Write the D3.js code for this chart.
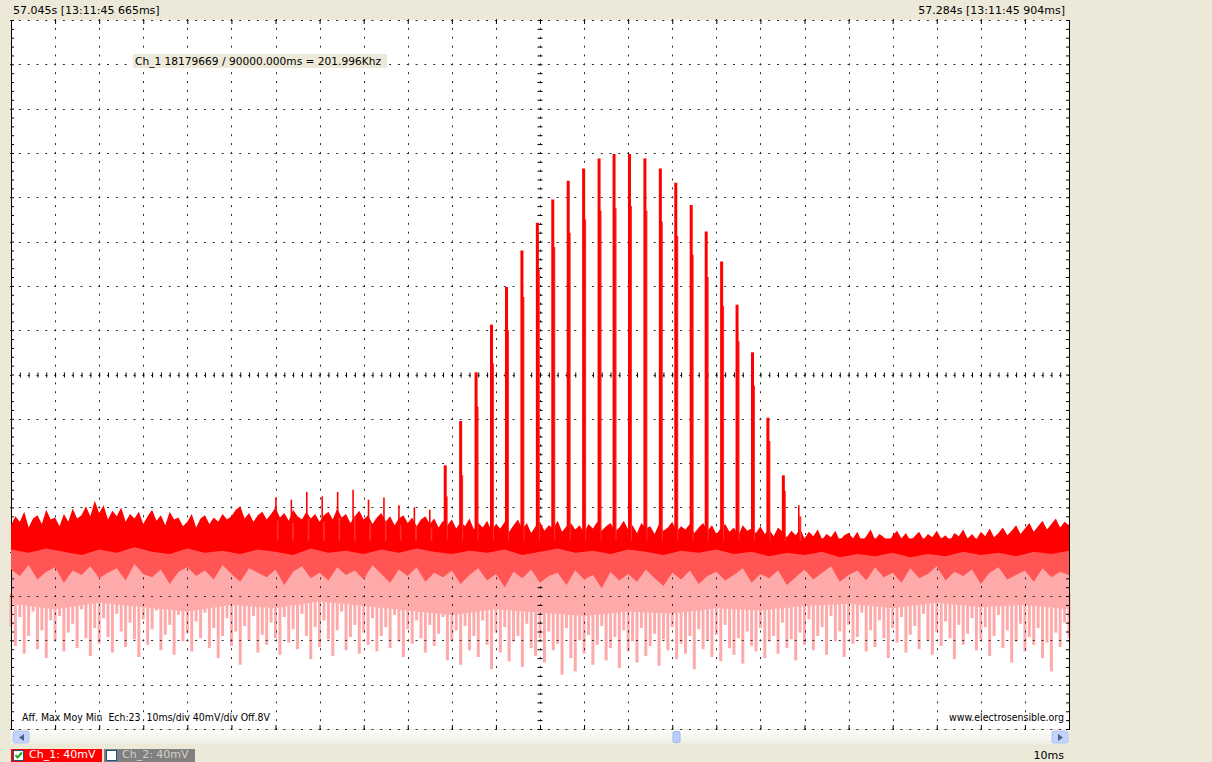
<!DOCTYPE html>
<html>
<head>
<meta charset="utf-8">
<script src="https://cdn.jsdelivr.net/npm/d3@7"></script>
<style>
body { margin: 0; background: #ece9d8; overflow: hidden; }
svg { display: block; font-family: "DejaVu Sans", sans-serif; }
</style>
</head>
<body>
<div id="container"></div>
<script>
const width = 1212;
const height = 762;

// ---------------------------- DATA ----------------------------//
// screen: 24 div x 10ms, 16 div x 40mV
const timeRange = [0, 240];
const voltRange = [-320, 320];
const headerLeft = "57.045s [13:11:45 665ms]";
const headerRight = "57.284s [13:11:45 904ms]";
const measureText = "Ch_1 18179669 / 90000.000ms = 201.996Khz";
const infoText = "Aff. Max Moy Min  Ech:23  10ms/div 40mV/div Off.8V";
const siteText = "www.electrosensible.org";
const channels = ["Ch_1: 40mV", "Ch_2: 40mV"];
const timebaseLabel = "10ms";

// Max trace, top edge of the noise band (mV, every 1 ms)
const maxTop = [
  -136,-128,-133,-124,-138,-130,-127,-135,-122,-131,
  -129,-137,-126,-133,-121,-130,-127,-119,-128,-114,
  -125,-118,-131,-123,-128,-120,-133,-126,-130,-124,
  -135,-128,-122,-132,-127,-136,-124,-131,-129,-137,
  -133,-126,-138,-130,-127,-135,-129,-133,-126,-131,
  -128,-122,-119,-130,-125,-133,-127,-124,-131,-126,
  -120,-129,-125,-132,-122,-128,-131,-124,-130,-126,
  -133,-127,-124,-131,-121,-129,-126,-134,-128,-123,
  -131,-127,-135,-129,-125,-133,-128,-136,-130,-127,
  -134,-129,-137,-131,-128,-135,-130,-138,-132,-136,
  -131,-139,-133,-137,-130,-140,-134,-138,-132,-141,
  -135,-139,-133,-142,-136,-131,-140,-134,-143,-137,
  -133,-141,-136,-139,-132,-142,-137,-134,-140,-136,
  -143,-135,-139,-133,-141,-137,-134,-142,-138,-132,
  -140,-136,-143,-134,-139,-137,-144,-135,-141,-138,
  -133,-142,-137,-140,-135,-143,-138,-134,-141,-136,
  -144,-139,-135,-142,-138,-145,-136,-141,-139,-143,
  -137,-144,-140,-146,-138,-142,-147,-141,-145,-139,
  -148,-142,-146,-140,-149,-144,-147,-141,-150,-145,
  -143,-148,-142,-151,-146,-140,-149,-144,-147,-152,
  -145,-141,-148,-143,-150,-146,-142,-149,-144,-147,
  -141,-148,-145,-150,-143,-146,-140,-148,-144,-149,
  -142,-146,-139,-147,-143,-138,-145,-141,-136,-144,
  -139,-134,-142,-137,-132,-140,-135,-130,-138,-133,
  -136
];
// Max trace, lower edge (mV, every 4 ms)
const maxBottom = [
  -158,-161,-157,-160,-163,-158,-161,-156,-160,-162,
  -157,-161,-159,-162,-158,-160,-163,-157,-161,-159,
  -162,-158,-161,-157,-160,-162,-159,-161,-158,-163,
  -160,-157,-161,-159,-162,-158,-160,-163,-159,-161,
  -158,-162,-160,-164,-161,-163,-160,-165,-162,-164,
  -161,-165,-162,-164,-160,-163,-161,-164,-160,-162,
  -159
];
// Moy trace, lower edge (mV, every 2 ms)
const moyBottom = [
  -176,-182,-172,-185,-178,-174,-188,-177,-181,-173,
  -184,-179,-175,-186,-171,-180,-183,-176,-189,-178,
  -174,-182,-177,-185,-172,-180,-187,-175,-179,-183,
  -176,-190,-178,-173,-184,-179,-186,-174,-181,-177,
  -185,-172,-180,-188,-176,-182,-174,-187,-179,-183,
  -177,-189,-181,-175,-186,-180,-192,-178,-184,-176,
  -188,-182,-179,-190,-177,-185,-181,-193,-178,-186,
  -180,-187,-176,-184,-191,-179,-185,-177,-189,-182,
  -178,-186,-181,-175,-188,-180,-184,-177,-190,-183,
  -176,-185,-179,-173,-187,-181,-177,-186,-174,-183,
  -179,-188,-175,-184,-180,-173,-186,-178,-182,-176,
  -189,-179,-174,-185,-181,-177,-187,-175,-183,-178,
  -181
];
// Min trace, dense part lower edge (mV, every 10 ms)
const minDense = [
  -207,-212,-206,-210,-214,-208,-211,-205,-209,-213,
  -217,-212,-215,-218,-214,-216,-211,-213,-209,-207,
  -211,-206,-210,-208,-212
];
// Min trace, needle depth (mV, every 1 ms)
const minBottom = [
  -228,-245,-219,-252,-236,-214,-248,-231,-256,-222,
  -240,-218,-250,-233,-225,-247,-212,-238,-254,-229,
  -243,-220,-237,-251,-216,-232,-246,-224,-239,-255,
  -221,-244,-230,-213,-249,-235,-226,-253,-217,-241,
  -234,-250,-223,-238,-215,-247,-229,-256,-236,-220,
  -245,-232,-262,-227,-240,-218,-251,-235,-244,-224,
  -238,-253,-219,-242,-230,-248,-216,-236,-257,-228,
  -246,-222,-239,-254,-231,-214,-249,-237,-226,-252,
  -233,-244,-220,-250,-236,-228,-247,-217,-241,-255,
  -230,-243,-222,-238,-251,-226,-245,-234,-219,-258,
  -240,-231,-262,-227,-249,-236,-255,-222,-244,-266,
  -233,-251,-228,-259,-241,-236,-264,-225,-247,-254,
  -238,-260,-232,-249,-243,-271,-229,-256,-268,-240,
  -252,-235,-262,-244,-227,-258,-247,-237,-265,-231,
  -250,-241,-260,-229,-254,-245,-234,-263,-239,-249,
  -228,-257,-243,-252,-236,-266,-230,-248,-240,-255,
  -235,-259,-226,-247,-253,-238,-261,-232,-245,-250,
  -229,-256,-241,-236,-252,-224,-247,-239,-258,-233,
  -244,-221,-249,-236,-228,-253,-218,-241,-232,-255,
  -226,-243,-237,-215,-250,-231,-246,-222,-238,-256,
  -229,-242,-219,-251,-235,-227,-248,-216,-240,-253,
  -232,-245,-223,-238,-257,-226,-244,-234,-220,-249,
  -239,-228,-254,-236,-217,-247,-231,-260,-241,-225,
  -250,-237,-244,-229,-256,-242,-268,-233,-246,-224,
  -238
];
// pulses (ms) and their peaks (mV)
const spikeT = [
  60.1, 63.6, 67.1, 70.6, 74.1, 77.6, 81.1, 84.6, 88.0, 91.5, 95.0,
  98.5, 102.0, 105.5, 109.0, 112.4, 115.9, 119.4, 122.9, 126.4, 129.9, 133.4,
  136.8, 140.3, 143.8, 147.3, 150.8, 154.3, 157.7, 161.2, 164.7, 168.2, 171.7,
  175.2, 178.7
];
const spikeMax = [
  -111, -113, -106, -110, -106, -104, -113, -111, -118, -120, -122,
  -82, -42, 2, 45, 79, 112, 137, 158, 175, 186, 195,
  199, 199, 195, 186, 173, 153, 129, 102, 63, 20, -39,
  -91, -118
];
const spikeMoy = [
  -132, -134, -130, -133, -129, -128, -134, -132, -136, -137, -138,
  -110, -91, -29, 10, 40, 70, 95, 115, 128, 140, 148,
  150, 152, 148, 138, 125, 108, 88, 62, 30, -10, -60,
  -105, -128
];

//----------------------------SCALES----------------------------//
const x = d3.scaleLinear().domain(timeRange).range([11, 1069]);
const y = d3.scaleLinear().domain(voltRange).range([729, 20]);

const svg = d3.select("div#container").append("svg")
    .attr("width", width)
    .attr("height", height);

svg.append("rect").attr("width", width).attr("height", height).attr("fill", "#ece9d8");
svg.append("rect")
    .attr("x", x(0)).attr("y", y(320))
    .attr("width", x(240) - x(0)).attr("height", y(-320) - y(320))
    .attr("fill", "#ffffff");

//----------------------------TRACES----------------------------//
const t1 = d3.range(0, 241, 1);
const t2 = d3.range(0, 241, 2);
const t4 = d3.range(0, 241, 4);
const t10 = d3.range(0, 241, 10);

// Min (light pink)
svg.append("path")
    .attr("fill", "#ffaaaa")
    .attr("d", d3.area()
        .x((d, i) => x(t10[i]))
        .y0(y(-148))
        .y1(d => y(d))(minDense));

svg.append("g").selectAll("line")
    .data(minBottom)
    .join("line")
    .attr("x1", (d, i) => x(t1[i]))
    .attr("x2", (d, i) => x(t1[i]))
    .attr("y1", y(-198))
    .attr("y2", d => y(d))
    .attr("stroke", "#ffaaaa")
    .attr("stroke-width", 3);

//-----------------------------GRID-----------------------------//
const grid = svg.append("g").attr("stroke", "#2a2a2a");
const stepX = x(2) - x(0);
const stepY = y(-320) - y(-312);

grid.selectAll(".row")
    .data(d3.range(-320, 321, 40))
    .join("line")
    .attr("x1", x(0) - 1).attr("x2", x(240) + 1)
    .attr("y1", d => Math.round(y(d)) + 0.5)
    .attr("y2", d => Math.round(y(d)) + 0.5)
    .attr("stroke-dasharray", "2 " + (stepX - 2));

grid.selectAll(".col")
    .data(t10.slice(1, -1))
    .join("line")
    .attr("x1", d => Math.round(x(d)) + 0.5)
    .attr("x2", d => Math.round(x(d)) + 0.5)
    .attr("y1", y(320) - 1).attr("y2", y(-320) + 1)
    .attr("stroke-dasharray", "2 " + (stepY - 2));

// frame edges
svg.append("g")
    .attr("transform", "translate(" + Math.round(x(0)) + ",0)")
    .call(d3.axisRight(y).tickValues(d3.range(-320, 321, 8)).tickSize(3).tickSizeOuter(0).tickFormat(""));
svg.append("g")
    .attr("transform", "translate(" + Math.round(x(240)) + ",0)")
    .call(d3.axisLeft(y).tickValues(d3.range(-320, 321, 8)).tickSize(3).tickSizeOuter(0).tickFormat(""));
svg.append("g")
    .attr("transform", "translate(0," + Math.round(y(320)) + ")")
    .call(d3.axisBottom(x).tickValues(t10).tickSize(4).tickFormat(""))
    .call(g => g.select(".domain").remove());
svg.append("g")
    .attr("transform", "translate(0," + Math.round(y(-320)) + ")")
    .call(d3.axisTop(x).tickValues(t10).tickSize(4).tickFormat(""))
    .call(g => g.select(".domain").remove());

// centre cross
const cx = Math.round(x(120));
const cy = Math.round(y(0));
[d3.axisLeft, d3.axisRight].forEach(ax => {
  svg.append("g")
      .attr("transform", "translate(" + cx + ",0)")
      .call(ax(y).tickValues(d3.range(-320, 321, 8)).tickSize(2.5).tickFormat(""))
      .call(g => g.select(".domain").remove());
});
[d3.axisTop, d3.axisBottom].forEach(ax => {
  svg.append("g")
      .attr("transform", "translate(0," + cy + ")")
      .call(ax(x).tickValues(t2).tickSize(2.5).tickFormat(""))
      .call(g => g.select(".domain").remove());
});

// Moy (medium red)
svg.append("path")
    .attr("fill", "#ff5555")
    .attr("d", d3.area()
        .x((d, i) => x(t2[i]))
        .y0(y(-150))
        .y1(d => y(d))(moyBottom));

// Max (red)
svg.append("path")
    .attr("fill", "#ff0000")
    .attr("d", d3.area()
        .x((d, i) => x(t1[i]))
        .y0(y(-152))
        .y1(d => y(d))(maxTop));
svg.append("path")
    .attr("fill", "#ff0000")
    .attr("d", d3.area()
        .x((d, i) => x(t4[i]))
        .y0(y(-148))
        .y1(d => y(d))(maxBottom));

// pulses
const pulses = spikeT.map((t, i) => ({t: t, max: spikeMax[i], moy: spikeMoy[i]}));
svg.append("g").selectAll("line")
    .data(pulses)
    .join("line")
    .attr("x1", d => x(d.t) + 1.5).attr("x2", d => x(d.t) + 1.5)
    .attr("y1", y(-150)).attr("y2", d => y(d.moy))
    .attr("stroke", "#ff3030")
    .attr("stroke-width", 2);
svg.append("g").selectAll("line")
    .data(pulses)
    .join("line")
    .attr("x1", d => x(d.t)).attr("x2", d => x(d.t))
    .attr("y1", y(-150)).attr("y2", d => y(d.max))
    .attr("stroke", "#ff0000")
    .attr("stroke-width", d => d.max < -100 ? 1.6 : 3);

//----------------------------LABELS----------------------------//
svg.append("text").attr("x", 13).attr("y", 14).attr("font-size", 11).text(headerLeft);
svg.append("text").attr("x", 1065).attr("y", 14).attr("font-size", 11)
    .attr("text-anchor", "end").text(headerRight);

svg.append("rect").attr("x", 133).attr("y", 54).attr("width", 254).attr("height", 14).attr("fill", "#ece9d8");
svg.append("text").attr("x", 135).attr("y", 65).attr("font-size", 11)
    .attr("textLength", 246).attr("lengthAdjust", "spacingAndGlyphs").text(measureText);

svg.append("text").attr("x", 22).attr("y", 721).attr("font-size", 10)
    .attr("textLength", 248).attr("lengthAdjust", "spacingAndGlyphs")
    .attr("xml:space", "preserve").text(infoText);
svg.append("text").attr("x", 1064).attr("y", 721).attr("font-size", 10.5)
    .attr("text-anchor", "end").attr("textLength", 115).attr("lengthAdjust", "spacingAndGlyphs")
    .text(siteText);

//---------------------------SCROLLBAR--------------------------//
const grad = svg.append("defs").append("linearGradient")
    .attr("id", "track").attr("x1", 0).attr("x2", 0).attr("y1", 0).attr("y2", 1);
grad.append("stop").attr("offset", "0%").attr("stop-color", "#fdfdfb");
grad.append("stop").attr("offset", "100%").attr("stop-color", "#eeede5");
svg.append("rect").attr("x", 11).attr("y", 730).attr("width", 1058).attr("height", 14).attr("fill", "url(#track)");

[[13, "M24,734 L19,737.5 L24,741 Z"], [1052, "M1058,734 L1063,737.5 L1058,741 Z"]].forEach(b => {
  svg.append("rect").attr("x", b[0]).attr("y", 731).attr("width", 16).attr("height", 12)
      .attr("rx", 2).attr("fill", "#c3d3fd").attr("stroke", "#b0c3ef");
  svg.append("path").attr("d", b[1]).attr("fill", "#4d6185");
});
svg.append("rect").attr("x", 673).attr("y", 731.5).attr("width", 7).attr("height", 11)
    .attr("rx", 1.5).attr("fill", "#b9cdfb").attr("stroke", "#9fb5ea");

//---------------------------CHANNELS---------------------------//
const chanColors = [["#ff0000", "#ffffff"], ["#808080", "#d4d0c8"]];
channels.forEach((c, i) => {
  const bx = i === 0 ? 11 : 104;
  svg.append("rect").attr("x", bx).attr("y", 749).attr("width", 91).attr("height", 13).attr("fill", chanColors[i][0]);
  svg.append("rect").attr("x", bx + 2.5).attr("y", 750.5).attr("width", 10).attr("height", 10)
      .attr("fill", "#ffffff").attr("stroke", "#1c5180").attr("stroke-width", 1);
  svg.append("text").attr("x", bx + 18).attr("y", 758).attr("font-size", 11)
      .attr("fill", chanColors[i][1]).text(c);
});
svg.append("path").attr("d", "M15.5,755 L17.5,757.5 L22,752.5")
    .attr("fill", "none").attr("stroke", "#21a121").attr("stroke-width", 2);

svg.append("text").attr("x", 1064).attr("y", 759).attr("font-size", 11)
    .attr("text-anchor", "end").text(timebaseLabel);
</script>
</body>
</html>
